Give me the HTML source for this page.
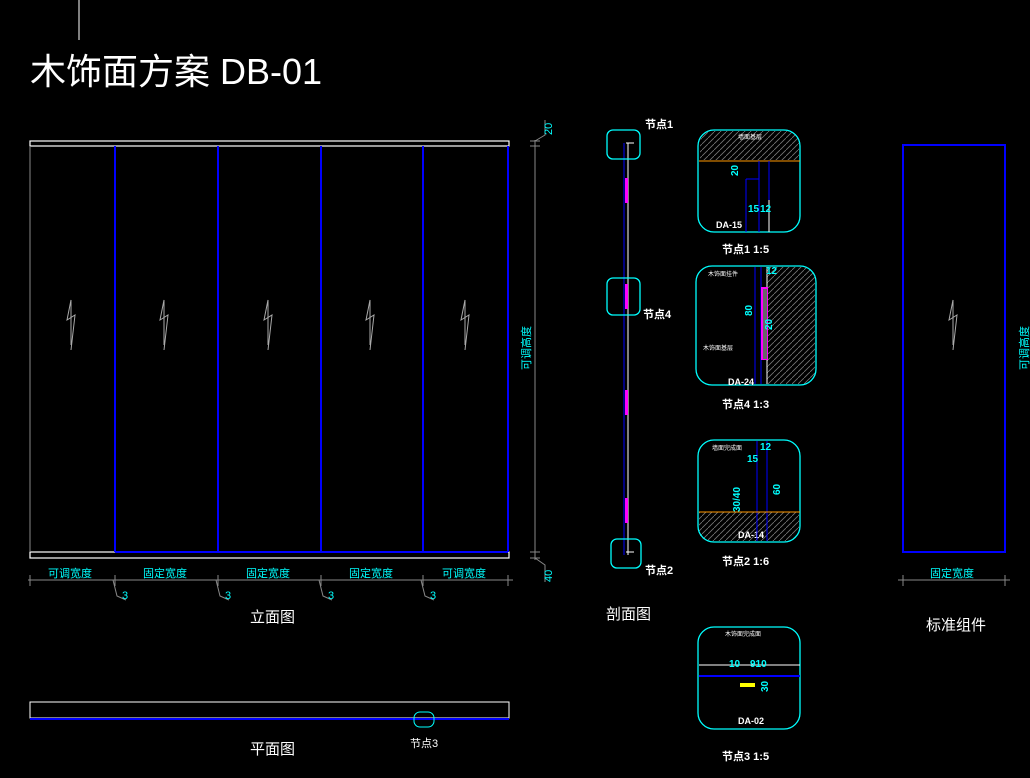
<!DOCTYPE html><html><head><meta charset="utf-8"><style>body{margin:0;background:#000}svg{display:block}text{font-family:"Liberation Sans","Noto Sans CJK SC",sans-serif}</style></head><body>
<svg width="1030" height="778" viewBox="0 0 1030 778" xmlns="http://www.w3.org/2000/svg">
<defs><pattern id="h" width="6" height="6" patternUnits="userSpaceOnUse"><rect width="6" height="6" fill="#000"/><path d="M0,6 L6,0" stroke="#777" stroke-width="0.8"/></pattern></defs>
<rect width="1030" height="778" fill="#000"/>
<line x1="79" y1="0" x2="79" y2="40" stroke="#fff"/>
<text x="30" y="84" fill="#fff" font-size="36">木饰面方案 DB-01</text>
<rect x="30" y="141" width="479" height="5" fill="none" stroke="#fff" stroke-width="1.2"/>
<rect x="30" y="552" width="479" height="6" fill="none" stroke="#fff" stroke-width="1.2"/>
<line x1="30" y1="146" x2="30" y2="552" stroke="#888"/>
<g stroke="#00f" stroke-width="2">
<line x1="115" y1="146" x2="115" y2="552"/><line x1="218" y1="146" x2="218" y2="552"/><line x1="321" y1="146" x2="321" y2="552"/><line x1="423" y1="146" x2="423" y2="552"/><line x1="508" y1="146" x2="508" y2="552"/>
<line x1="115" y1="552" x2="508" y2="552"/></g>
<g stroke="#aaa" fill="none">
<polyline points="71,345 71,300 67,320 75,315 71,350"/><polyline points="164,345 164,300 160,320 168,315 164,350"/><polyline points="268,345 268,300 264,320 272,315 268,350"/><polyline points="370,345 370,300 366,320 374,315 370,350"/><polyline points="465,345 465,300 461,320 469,315 465,350"/><polyline points="953,345 953,300 949,320 957,315 953,350"/>
</g>
<g stroke="#888" fill="none">
<line x1="28" y1="580" x2="513" y2="580"/>
<line x1="30" y1="575" x2="30" y2="586"/><line x1="115" y1="575" x2="115" y2="586"/><line x1="218" y1="575" x2="218" y2="586"/><line x1="321" y1="575" x2="321" y2="586"/><line x1="423" y1="575" x2="423" y2="586"/><line x1="508" y1="575" x2="508" y2="586"/>
<polyline points="113,580 117,596 126,600"/><polyline points="216,580 220,596 229,600"/><polyline points="319,580 323,596 332,600"/><polyline points="421,580 425,596 434,600"/>
<line x1="535" y1="140" x2="535" y2="560"/><line x1="530" y1="141" x2="540" y2="141"/><line x1="530" y1="146" x2="540" y2="146"/><line x1="530" y1="552" x2="540" y2="552"/><line x1="530" y1="558" x2="540" y2="558"/>
<polyline points="535,141 545,135 545,120"/><polyline points="535,558 545,565 545,582"/>
<line x1="898" y1="580" x2="1010" y2="580"/><line x1="903" y1="575" x2="903" y2="586"/><line x1="1005" y1="575" x2="1005" y2="586"/>
</g>
<g fill="#0ff" font-size="11">
<text x="48" y="577">可调宽度</text><text x="143" y="577">固定宽度</text><text x="246" y="577">固定宽度</text><text x="349" y="577">固定宽度</text><text x="442" y="577">可调宽度</text>
<text x="122" y="599">3</text><text x="225" y="599">3</text><text x="328" y="599">3</text><text x="430" y="599">3</text>
<text x="930" y="577">固定宽度</text>
<text transform="translate(530,370) rotate(-90)">可调高度</text>
<text transform="translate(1028,370) rotate(-90)">可调高度</text>
<text transform="translate(552,135) rotate(-90)">20</text>
<text transform="translate(552,582) rotate(-90)">40</text>
</g>
<text x="250" y="622" fill="#fff" font-size="15">立面图</text>
<text x="250" y="754" fill="#fff" font-size="15">平面图</text>
<text x="606" y="619" fill="#fff" font-size="15">剖面图</text>
<text x="926" y="630" fill="#fff" font-size="15">标准组件</text>
<rect x="30" y="702" width="479" height="16" fill="none" stroke="#fff"/>
<line x1="30" y1="719" x2="509" y2="719" stroke="#00f" stroke-width="2"/>
<rect x="414" y="712" width="20" height="15" rx="6" fill="none" stroke="#0ff"/>
<text x="410" y="747" fill="#fff" font-size="11">节点3</text>
<rect x="903" y="145" width="102" height="407" fill="none" stroke="#00f" stroke-width="2"/>
<line x1="624" y1="143" x2="624" y2="555" stroke="#00f"/><line x1="628" y1="143" x2="628" y2="555" stroke="#fff"/>
<g fill="#f0f"><rect x="625" y="178" width="3" height="25"/><rect x="625" y="284" width="3" height="25"/><rect x="625" y="390" width="3" height="25"/><rect x="625" y="498" width="3" height="25"/></g>
<path d="M626,143 L634,143" stroke="#fff"/><path d="M626,552 L634,552" stroke="#fff"/>
<path d="M700,160 L700,145 Q700,131 714,131 L786,131 Q799,131 799,145 L799,160 Z" fill="url(#h)"/>
<path d="M767,267 L803,267 Q815,267 815,280 L815,372 Q815,384 803,384 L767,384 Z" fill="url(#h)"/>
<path d="M699,512 L799,512 L799,530 Q799,541 788,541 L710,541 Q699,541 699,530 Z" fill="url(#h)"/>
<g fill="none" stroke="#0ff" stroke-width="1.3">
<rect x="607" y="130" width="33" height="29" rx="6"/><rect x="607" y="278" width="33" height="37" rx="6"/><rect x="611" y="539" width="30" height="29" rx="6"/>
<rect x="698" y="130" width="102" height="102" rx="16"/><rect x="696" y="266" width="120" height="119" rx="16"/><rect x="698" y="440" width="102" height="102" rx="16"/><rect x="698" y="627" width="102" height="102" rx="16"/>
</g>
<g fill="#fff" font-size="11" font-weight="bold">
<text x="645" y="128">节点1</text><text x="643" y="318">节点4</text><text x="645" y="574">节点2</text>
<text x="722" y="253">节点1  1:5</text><text x="722" y="408">节点4  1:3</text><text x="722" y="565">节点2  1:6</text><text x="722" y="760">节点3 1:5</text>
<text x="716" y="228" font-size="9">DA-15</text><text x="728" y="385" font-size="9">DA-24</text><text x="738" y="538" font-size="9">DA-14</text><text x="738" y="724" font-size="9">DA-02</text>
</g>
<line x1="699" y1="161" x2="800" y2="161" stroke="#f90"/>
<g stroke="#00f"><line x1="759" y1="161" x2="759" y2="232"/><line x1="769" y1="161" x2="769" y2="232"/><line x1="746" y1="179" x2="759" y2="179"/><line x1="746" y1="179" x2="746" y2="232"/>
<line x1="755" y1="267" x2="755" y2="384"/><line x1="761" y1="267" x2="761" y2="384"/><line x1="757" y1="441" x2="757" y2="541"/><line x1="767" y1="441" x2="767" y2="541"/>
<line x1="699" y1="676" x2="800" y2="676" stroke-width="2"/></g>
<line x1="769" y1="200" x2="769" y2="232" stroke="#fff"/>
<line x1="767" y1="267" x2="767" y2="384" stroke="#fff"/>
<rect x="761" y="287" width="7" height="73" fill="#f0f"/><rect x="763" y="289" width="4" height="70" fill="#666"/>
<line x1="699" y1="512" x2="800" y2="512" stroke="#f90"/>
<line x1="699" y1="665" x2="800" y2="665" stroke="#fff"/>
<rect x="740" y="683" width="15" height="4" fill="#ff0"/>
<g fill="#0ff" font-size="10" font-weight="bold">
<text x="748" y="212">15</text><text x="760" y="212">12</text><text transform="translate(738,176) rotate(-90)">20</text>
<text x="766" y="274">12</text><text transform="translate(752,316) rotate(-90)">80</text><text transform="translate(772,330) rotate(-90)">20</text>
<text x="760" y="450">12</text><text x="747" y="462">15</text><text transform="translate(740,512) rotate(-90)">30/40</text><text transform="translate(780,495) rotate(-90)">60</text>
<text x="729" y="667">10</text><text x="750" y="667">910</text><text transform="translate(768,692) rotate(-90)">30</text>
</g>
<g fill="#fff" font-size="6"><text x="738" y="139">墙面基层</text><text x="708" y="276">木饰面挂件</text><text x="703" y="350">木饰面基层</text><text x="712" y="450">墙面完成面</text><text x="725" y="636">木饰面完成面</text></g>
</svg></body></html>
